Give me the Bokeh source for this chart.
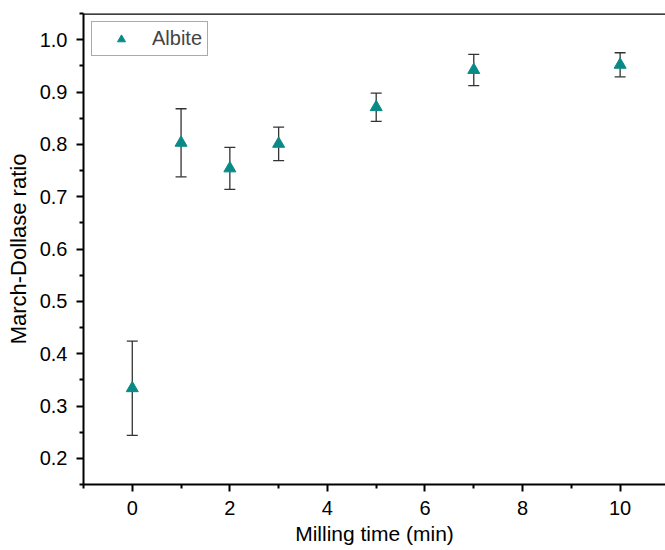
from bokeh.plotting import figure
from bokeh.models import (ColumnDataSource, Whisker, TeeHead, Span, Range1d, Legend,
                          LegendItem, FixedTicker)
from bokeh.embed import file_html
from bokeh.resources import INLINE

# data
milling_time = [0, 1, 2, 3, 5, 7, 10]
md_ratio = [0.334, 0.803, 0.754, 0.801, 0.871, 0.942, 0.952]
md_error = [0.090, 0.065, 0.040, 0.032, 0.027, 0.030, 0.023]
x_ticks = [0, 2, 4, 6, 8, 10]
y_ticks = [0.2, 0.3, 0.4, 0.5, 0.6, 0.7, 0.8, 0.9, 1.0]
series_name = "Albite"
x_label = "Milling time (min)"
y_label = "March-Dollase ratio"

X0, X1 = -1.0, 10.93
Y0, Y1 = 0.15, 1.05

lower = [v - e for v, e in zip(md_ratio, md_error)]
upper = [v + e for v, e in zip(md_ratio, md_error)]
src = ColumnDataSource(dict(x=milling_time, y=md_ratio, lower=lower, upper=upper))

FONT = "Liberation Sans"
p = figure(width=665, height=550, output_backend="svg", toolbar_location=None,
           x_range=Range1d(X0, X1), y_range=Range1d(Y0, Y1),
           min_border_left=83, min_border_top=13, min_border_right=0, min_border_bottom=66)
p.outline_line_color = None
p.grid.grid_line_color = None
p.background_fill_color = "white"
p.border_fill_color = "white"

w = Whisker(source=src, base="x", lower="lower", upper="upper",
            line_color="#333333", line_width=1.3,
            upper_head=TeeHead(size=11, line_color="#333333", line_width=1.3),
            lower_head=TeeHead(size=11, line_color="#333333", line_width=1.3))
p.add_layout(w)

r = p.scatter("x", "y", source=src, marker="triangle", size=12,
              fill_color="#0A8A86", line_color="#0A8A86")

top_line = Span(location=Y1, dimension="width", line_color="black", line_width=2.5)
p.add_layout(top_line)

for ax in (p.xaxis[0], p.yaxis[0]):
    ax.axis_line_width = 2
    ax.axis_line_color = "black"
    ax.major_tick_line_width = 2
    ax.minor_tick_line_width = 2
    ax.major_tick_out = 7
    ax.major_tick_in = 0
    ax.minor_tick_out = 4
    ax.minor_tick_in = 0
    ax.major_label_text_font = FONT
    ax.major_label_text_font_size = "20px"
    ax.major_label_text_color = "black"
    ax.axis_label_text_font = FONT
    ax.axis_label_text_font_style = "normal"
    ax.axis_label_text_color = "black"

p.xaxis.ticker = FixedTicker(ticks=x_ticks, minor_ticks=[-1, 1, 3, 5, 7, 9])
p.yaxis.ticker = FixedTicker(ticks=y_ticks,
                             minor_ticks=[0.15, 0.25, 0.35, 0.45, 0.55, 0.65, 0.75, 0.85, 0.95, 1.05])
p.xaxis.major_label_overrides = {t: str(t) for t in x_ticks}
p.yaxis.major_label_overrides = {t: f"{t:.1f}" for t in y_ticks}
p.xaxis.axis_label = x_label
p.xaxis.axis_label_text_font_size = "21px"
p.yaxis.axis_label = y_label
p.yaxis.axis_label_text_font_size = "22px"
p.xaxis.major_label_standoff = 9
p.xaxis.axis_label_standoff = 4
p.yaxis.major_label_standoff = 9
p.yaxis.axis_label_standoff = 6

legend = Legend(items=[LegendItem(label=series_name, renderers=[r])],
                location="top_left", margin=8, padding=5,
                glyph_width=48, glyph_height=20, label_standoff=7,
                label_text_font=FONT, label_text_font_size="20px",
                border_line_color="#555555", border_line_width=1,
                background_fill_alpha=1)
p.add_layout(legend)

open("out.html", "w").write(file_html(p, INLINE))
